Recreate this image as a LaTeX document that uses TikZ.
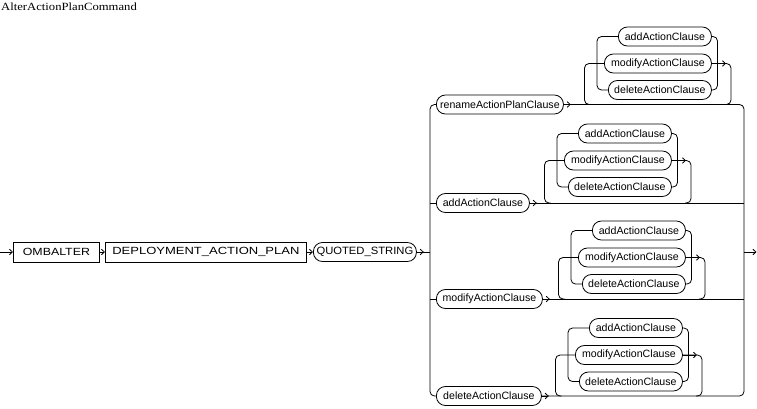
\documentclass[tikz,border=0pt]{standalone}
\usepackage{fontspec}
\usepackage{graphicx}
\newfontfamily\rrfont{Liberation Sans}
\newfontfamily\ttlfont{Liberation Serif}
\usetikzlibrary{arrows.meta}
\tikzset{
  line/.style={line width=0.8pt},
  arr/.style={line width=0.8pt, -{Straight Barb[length=3pt,width=5.5pt]}},
  pill/.style={draw, line width=0.8pt, rounded corners=9pt, minimum height=19pt,
    inner xsep=2pt, inner ysep=0pt, font=\rrfont\fontsize{10.6}{12}\selectfont},
  term/.style={draw, line width=0.8pt, minimum height=20pt,
    inner xsep=2pt, inner ysep=0pt, font=\rrfont\fontsize{10.4}{12}\selectfont},
  rc/.style={rounded corners=4.5pt},
}
% #1 branch node name, #2 y of middle row, #3 right edge of the rows
\newcommand\rrloop[3]{%
  \node[pill, anchor=west, minimum width=93pt] (#1a) at ({#3-93},{#2-27}) {addActionClause};
  \node[pill, anchor=west, minimum width=107pt] (#1m) at ({#3-107},{#2}) {modifyActionClause};
  \node[pill, anchor=west, minimum width=103pt] (#1d) at ({#3-103},{#2+26.5}) {deleteActionClause};
  \coordinate (#1ol) at ({#3-126.5},{#2});
  \coordinate (#1il) at ({#3-114},{#2});
  \coordinate (#1ir) at ({#3+6.5},{#2});
  \coordinate (#1or) at ({#3+20},{#2});
  \coordinate (#1olb) at (#1ol |- #1.east);
  \coordinate (#1orb) at (#1or |- #1.east);
  \draw[line, rc] (#1a.west) -- (#1il |- #1a.west) -- (#1il |- #1d.west) -- (#1d.west);
  \draw[line, rc] (#1a.east) -- (#1ir |- #1a.east) -- (#1ir |- #1d.east) -- (#1d.east);
  \draw[line, rc] ([xshift=6pt]#1olb) -- (#1olb) -- (#1ol) -- (#1m.west);
  \draw[line, rc] (#1m.east) -- (#1or) -- (#1orb) -- ([xshift=-6pt]#1orb);
  \draw[arr] (#1m.east) -- ([xshift=-5pt]#1or);
}
\begin{document}
\begin{tikzpicture}[x=1pt, y=-1pt]
\useasboundingbox (0,0) rectangle (757,408);
\node[anchor=west, inner sep=0pt] (title) at (1,7)
  {\ttlfont\fontsize{11}{13}\selectfont\scalebox{1.15}[1]{AlterActionPlanCommand}};

\coordinate (start) at (0,252);
\coordinate (L) at (430,252);
\coordinate (R) at (744,252);
\coordinate (exit) at (756.5,252);

\node[term, anchor=west, minimum width=86pt] (omb) at (13,252) {\scalebox{1.19}[1]{OMBALTER}};
\node[term, anchor=west, minimum width=201pt] (dap) at (105,252) {\scalebox{1.25}[1]{DEPLOYMENT\_ACTION\_PLAN}};
\node[pill, anchor=west, minimum width=103pt] (qs) at (313,252) {\scalebox{1.06}[1]{QUOTED\_STRING}};

\node[pill, anchor=west, minimum width=127pt] (b1) at (436,104.5) {renameActionPlanClause};
\node[pill, anchor=west, minimum width=93pt] (b2) at (436,203) {addActionClause};
\node[pill, anchor=west, minimum width=106pt] (b3) at (436,299) {modifyActionClause};
\node[pill, anchor=west, minimum width=105pt] (b4) at (436,396) {deleteActionClause};

\draw[arr] (start) -- (omb.west);
\draw[arr] (omb.east) -- (dap.west);
\draw[arr] (dap.east) -- (qs.west);
\draw[line] (qs.east) -- (L);
\draw[arr] (qs.east) -- ++(7,0);

\draw[line, rc] (b1.west) -- (L |- b1.west) -- (L |- b4.west) -- (b4.west);
\draw[line] (L |- b2.west) -- (b2.west);
\draw[line] (L |- b3.west) -- (b3.west);

\draw[line, rc] (b1.east) -- (R |- b1.east) -- (R |- b4.east) -- (b4.east);
\draw[line] (b2.east) -- (R |- b2.east);
\draw[line] (b3.east) -- (R |- b3.east);
\draw[arr] (b1.east) -- ++(7,0);
\draw[arr] (b2.east) -- ++(7,0);
\draw[arr] (b3.east) -- ++(7,0);
\draw[arr] (b4.east) -- ++(7,0);
\draw[arr] (R) -- (exit);

\rrloop{b1}{63.5}{711}
\rrloop{b2}{160.5}{671}
\rrloop{b3}{257.5}{685}
\rrloop{b4}{355}{682}
\end{tikzpicture}
\end{document}
